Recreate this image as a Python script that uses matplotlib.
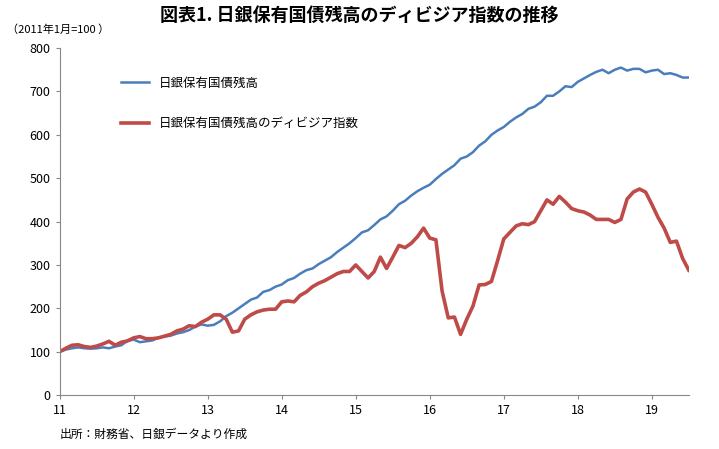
import matplotlib.pyplot as plt
import numpy as np

plt.rcParams['font.family'] = ['Noto Sans CJK JP', 'DejaVu Sans']

# 日銀保有国債残高（月次、2011年1月=100）
zandaka = [100, 105, 108, 110, 108, 107, 108, 110, 108, 112, 115, 125,
           128, 122, 124, 126, 132, 135, 137, 142, 145, 150, 158, 163,
           160, 162, 170, 182, 190, 200, 210, 220, 225, 238, 242, 250,
           255, 265, 270, 280, 288, 292, 302, 310, 318, 330, 340, 350,
           362, 375, 380, 392, 405, 412, 425, 440, 448, 460, 470, 478,
           485, 498, 510, 520, 530, 545, 550, 560, 575, 585, 600, 610,
           618, 630, 640, 648, 660, 665, 675, 690, 690, 700, 712, 710,
           722, 730, 738, 745, 750, 742, 750, 755, 748, 752, 752, 744,
           748, 750, 740, 742, 738, 732, 732]
# ディビジア指数
divisia = [100, 108, 115, 116, 112, 110, 113, 118, 124, 115, 122, 125,
           132, 135, 130, 130, 132, 136, 140, 148, 152, 160, 158, 168,
           175, 185, 185, 175, 145, 148, 175, 185, 192, 196, 198, 198,
           215, 217, 215, 230, 238, 250, 258, 264, 272, 280, 285, 285,
           300, 285, 270, 285, 318, 292, 318, 345, 340, 350, 365, 385,
           362, 358, 240, 178, 180, 140, 175, 205, 254, 255, 262, 310,
           360, 375, 390, 395, 393, 400, 425, 450, 440, 458, 445, 430,
           425, 422, 415, 405, 405, 405, 398, 405, 452, 468, 475, 468,
           440, 410, 385, 352, 355, 315, 288]
years = ['11', '12', '13', '14', '15', '16', '17', '18', '19']

x = np.arange(len(zandaka))

fig = plt.figure(figsize=(7.19, 4.49), dpi=100)
ax = fig.add_axes([0.083, 0.12, 0.875, 0.773])
ax.plot(x, zandaka, color='#4a7ebb', lw=1.8, label='日銀保有国債残高')
ax.plot(x, divisia, color='#be4b48', lw=2.6, label='日銀保有国債残高のディビジア指数')

ax.set_ylim(0, 800)
ax.set_yticks(range(0, 801, 100))
ax.set_xlim(0, 102)
ax.set_xticks(np.arange(0, 12 * len(years), 12))
ax.set_xticklabels(years)
ax.tick_params(labelsize=9, length=3, color='#888888')
for s in ['top', 'right']:
    ax.spines[s].set_visible(False)
for s in ['left', 'bottom']:
    ax.spines[s].set_color('#888888')

ax.legend(loc='upper left', bbox_to_anchor=(0.08, 0.95), frameon=False,
          fontsize=9, handlelength=2.2, labelspacing=2.2)

fig.text(0.5, 0.965, '図表1. 日銀保有国債残高のディビジア指数の推移', ha='center',
         va='center', fontsize=13, fontweight='bold')
fig.text(0.01, 0.935, '（2011年1月=100 ）', fontsize=8, va='center')
fig.text(0.083, 0.025, '出所：財務省、日銀データより作成', fontsize=8.5)

plt.savefig('out.png')
